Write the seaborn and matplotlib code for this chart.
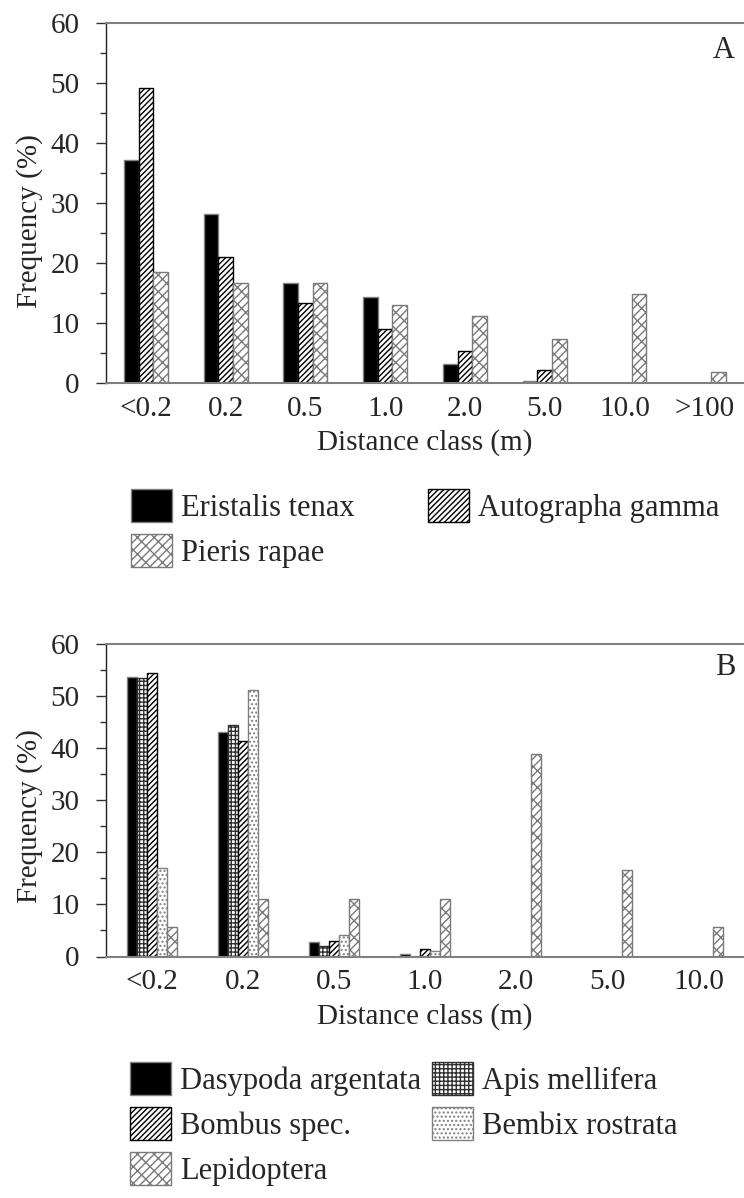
import matplotlib
matplotlib.use("Agg")
import matplotlib.pyplot as plt
from matplotlib.patches import Patch
from matplotlib.ticker import MultipleLocator
import seaborn as sns
import pandas as pd

# ---- data -------------------------------------------------------------
classes_a = ["<0.2", "0.2", "0.5", "1.0", "2.0", "5.0", "10.0", ">100"]
species_a = ["Eristalis tenax", "Autographa gamma", "Pieris rapae"]
eristalis = [37.2, 28.2, 16.7, 14.4, 3.2, 0.3, 0.0, 0.0]
autographa = [49.2, 21.0, 13.4, 9.0, 5.3, 2.1, 0.0, 0.0]
pieris = [18.5, 16.7, 16.7, 13.0, 11.1, 7.4, 14.8, 1.9]

classes_b = ["<0.2", "0.2", "0.5", "1.0", "2.0", "5.0", "10.0"]
species_b = ["Dasypoda argentata", "Apis mellifera", "Bombus spec.",
             "Bembix rostrata", "Lepidoptera"]
dasypoda = [53.6, 43.2, 2.8, 0.4, 0.0, 0.0, 0.0]
apis = [53.4, 44.5, 2.0, 0.0, 0.0, 0.0, 0.0]
bombus = [54.4, 41.3, 2.9, 1.4, 0.0, 0.0, 0.0]
bembix = [17.0, 51.1, 4.1, 1.0, 0.0, 0.0, 0.0]
lepidoptera = [5.6, 11.1, 11.1, 11.1, 38.9, 16.7, 5.6]

# ---- fill styles: (face, hatch, edge) ---------------------------------
SOLID = ("black", "", "#808080")
STRIPE = ("white", "//////", "black")
ZIGZAG = ("white", "////\\\\", "#7a7a7a")
GRID = ("white", "++++", "#303030")
DOTS = ("white", "....", "#808080")

styles_a = [SOLID, STRIPE, ZIGZAG]
styles_b = [SOLID, GRID, STRIPE, DOTS, ZIGZAG]

sns.set_style("white")
plt.rcParams["font.family"] = ["Liberation Serif", "DejaVu Serif"]
plt.rcParams["hatch.linewidth"] = 1.0
FS = 21

W, H = 744, 1198
fig = plt.figure(figsize=(W / 100, H / 100), dpi=100)


def frame(top_px, bot_px):
    return [106 / W, 1 - bot_px / H, (744 - 106) / W, (bot_px - top_px) / H]


def long_form(classes, names, series):
    rows = []
    for name, vals in zip(names, series):
        for c, v in zip(classes, vals):
            rows.append({"cls": c, "freq": v, "species": name})
    return pd.DataFrame(rows)


def panel(ax, classes, names, series, styles, letter, label_y):
    df = long_form(classes, names, series)
    sns.barplot(data=df, x="cls", y="freq", hue="species", order=classes,
                hue_order=names, width=0.55, saturation=1, legend=False,
                palette=[s[0] for s in styles], ax=ax, errorbar=None)
    for cont, (face, hatch, edge) in zip(ax.containers, styles):
        for bar in cont:
            bar.set_facecolor(face)
            bar.set_hatch(hatch)
            bar.set_edgecolor(edge)
            bar.set_linewidth(1.0)
    ax.set_xlim(-0.5, len(classes) - 0.5)
    ax.set_ylim(0, 60)
    ax.yaxis.set_major_locator(MultipleLocator(10))
    ax.yaxis.set_minor_locator(MultipleLocator(5))
    ax.tick_params(axis="y", which="major", left=True, direction="out",
                   length=7, width=1, color="#333333", pad=12, labelsize=FS)
    ax.tick_params(axis="y", which="minor", left=True, direction="out",
                   length=4.5, width=1, color="#333333")
    ax.tick_params(axis="x", length=0, pad=9, labelsize=FS)
    for s in ("top", "bottom"):
        ax.spines[s].set_color("#808080")
        ax.spines[s].set_linewidth(1.5)
    ax.spines["left"].set_color("#222222")
    ax.spines["left"].set_linewidth(1.0)
    ax.spines["right"].set_visible(False)
    ax.set_xlabel("Distance class (m)", fontsize=FS)
    ax.set_ylabel("Frequency (%)", fontsize=FS)
    ax.yaxis.set_label_coords(-0.099, 0.45)
    ax.xaxis.set_label_coords(0.5, label_y)
    ax.text(0.986, 0.925, letter, transform=ax.transAxes, ha="right",
            va="center", fontsize=FS + 1)


ax_a = fig.add_axes(frame(23, 383))
panel(ax_a, classes_a, species_a, [eristalis, autographa, pieris],
      styles_a, "A", -0.128)

ax_b = fig.add_axes(frame(644, 956.5))
panel(ax_b, classes_b, species_b,
      [dasypoda, apis, bombus, bembix, lepidoptera], styles_b, "B", -0.15)


def handles(names, styles, order):
    return [Patch(facecolor=styles[i][0], hatch=styles[i][1],
                  edgecolor=styles[i][2], linewidth=1.0, label=names[i])
            for i in order]


leg_kw = dict(frameon=False, fontsize=FS + 1, loc="upper left",
              handlelength=1.34, handleheight=1.27, handletextpad=0.3,
              labelspacing=0.38, borderpad=0, borderaxespad=0)

# entries laid out row by row across two columns
fig.legend(handles=handles(species_a, styles_a, [0, 2, 1]), ncols=2,
           columnspacing=2.4, bbox_to_anchor=(131 / W, 1 - 489 / H), **leg_kw)
fig.legend(handles=handles(species_b, styles_b, [0, 2, 4, 1, 3]), ncols=2,
           columnspacing=0.35, bbox_to_anchor=(130 / W, 1 - 1062 / H), **leg_kw)

fig.savefig("out.png", dpi=100, facecolor="white")
